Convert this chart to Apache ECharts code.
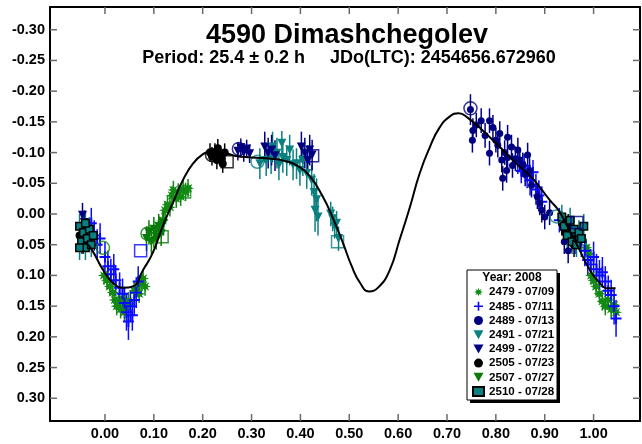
<!DOCTYPE html>
<html><head><meta charset="utf-8">
<script src="https://cdn.jsdelivr.net/npm/echarts@6/dist/echarts.min.js"></script>
<style>html,body{margin:0;padding:0;background:#fff}#c{width:642px;height:444px}</style>
</head><body><div id="c"></div>
<script>
const xTicks = [0.0, 0.1, 0.2, 0.3, 0.4, 0.5, 0.6, 0.7, 0.8, 0.9, 1.0];
const yTicks = [-0.30, -0.25, -0.20, -0.15, -0.10, -0.05, 0.00, 0.05, 0.10, 0.15, 0.20, 0.25, 0.30];

const fitCurve = [
  [-0.04,0.046],[-0.027,0.058],[-0.004,0.091],[0.016,0.112],[0.037,0.120],[0.057,0.118],[0.078,0.091],
  [0.098,0.063],[0.119,0.018],[0.140,-0.020],[0.160,-0.056],[0.180,-0.082],[0.200,-0.097],[0.220,-0.103],
  [0.240,-0.101],[0.265,-0.095],[0.300,-0.092],[0.340,-0.090],[0.370,-0.086],[0.395,-0.078],[0.419,-0.062],
  [0.446,-0.028],[0.466,0.006],[0.487,0.047],[0.505,0.085],[0.522,0.112],[0.540,0.126],[0.560,0.119],
  [0.583,0.091],[0.603,0.042],[0.624,-0.011],[0.644,-0.066],[0.665,-0.109],[0.685,-0.141],[0.706,-0.159],
  [0.724,-0.164],[0.742,-0.157],[0.773,-0.136],[0.808,-0.109],[0.842,-0.082],[0.875,-0.058],[0.910,-0.023],
  [0.930,-0.004],[0.950,0.026],[0.971,0.058],[0.990,0.088],[1.010,0.110],[1.030,0.121],[1.045,0.121]
];

// [phase, magnitude, error]
const s2479 = [
  [-0.002,0.100,0.015],[0.004,0.108,0.015],[0.010,0.118,0.015],[0.016,0.128,0.015],[0.020,0.140,0.015],
  [0.024,0.150,0.015],[0.028,0.145,0.015],[0.032,0.155,0.015],[0.036,0.138,0.015],[0.040,0.160,0.015],
  [0.044,0.150,0.015],[0.048,0.142,0.015],[0.060,0.125,0.015],[0.066,0.118,0.015],[0.070,0.130,0.015],
  [0.074,0.112,0.015],[0.078,0.105,0.015],[0.082,0.118,0.015],
  [0.100,0.040,0.015],[0.106,0.030,0.015],[0.112,0.020,0.015],[0.118,0.010,0.015],[0.123,-0.006,0.015],
  [0.128,-0.015,0.015],[0.133,-0.011,0.015],[0.137,-0.030,0.015],[0.140,-0.039,0.015],[0.146,-0.025,0.015],
  [0.150,-0.035,0.015],[0.155,-0.028,0.015],[0.160,-0.040,0.015],[0.165,-0.036,0.015],[0.170,-0.042,0.015],
  [0.985,0.055,0.015],[0.990,0.065,0.015],[0.995,0.100,0.015],[1.000,0.108,0.015],[1.005,0.118,0.015],
  [1.012,0.130,0.015],[1.018,0.142,0.015],[1.024,0.150,0.015],[1.030,0.140,0.015],[1.036,0.155,0.015],
  [1.042,0.148,0.015],[1.046,0.160,0.015]
];
const s2485 = [
  [-0.028,0.015,0.025],[-0.022,0.035,0.025],[-0.016,0.050,0.025],[-0.010,0.040,0.025],[0.000,0.070,0.025],
  [0.006,0.085,0.025],[0.012,0.098,0.025],[0.018,0.090,0.025],[0.022,0.108,0.025],[0.030,0.120,0.025],
  [0.036,0.130,0.025],[0.040,0.145,0.025],[0.044,0.160,0.030],[0.048,0.175,0.030],[0.052,0.150,0.025],
  [0.056,0.165,0.025],[0.060,0.140,0.025],[0.064,0.128,0.025],[0.068,0.110,0.025],
  [0.845,-0.085,0.020],[0.852,-0.070,0.020],[0.858,-0.078,0.020],[0.864,-0.062,0.020],[0.870,-0.055,0.025],
  [0.876,-0.068,0.020],[0.882,-0.040,0.025],[0.888,-0.030,0.025],[0.894,-0.020,0.025],
  [0.930,0.010,0.020],[0.945,0.025,0.020],[0.955,0.030,0.020],[0.962,0.045,0.020],
  [0.975,0.045,0.025],[0.982,0.060,0.025],[0.988,0.075,0.025],[0.994,0.082,0.025],[1.000,0.070,0.025],
  [1.006,0.090,0.025],[1.012,0.100,0.025],[1.018,0.095,0.025],[1.024,0.110,0.025],[1.030,0.125,0.025],
  [1.036,0.132,0.025],[1.042,0.150,0.030],[1.046,0.170,0.030]
];
const s2489 = [
  [0.748,-0.170,0.025],[0.753,-0.136,0.020],[0.752,-0.120,0.020],[0.760,-0.145,0.020],[0.770,-0.152,0.020],
  [0.778,-0.128,0.020],[0.787,-0.152,0.020],[0.794,-0.141,0.020],[0.787,-0.099,0.020],[0.800,-0.120,0.020],
  [0.804,-0.112,0.020],[0.808,-0.131,0.020],[0.812,-0.088,0.020],[0.814,-0.058,0.020],[0.818,-0.100,0.020],
  [0.822,-0.071,0.020],[0.824,-0.092,0.020],[0.824,-0.125,0.020],[0.832,-0.109,0.020],[0.834,-0.079,0.020],
  [0.840,-0.090,0.020],[0.845,-0.104,0.020],[0.849,-0.088,0.020],[0.855,-0.080,0.020],[0.860,-0.065,0.020],
  [0.865,-0.096,0.020],[0.869,-0.071,0.020],[0.873,-0.047,0.020],[0.885,-0.028,0.020],[0.890,-0.018,0.020],
  [0.894,-0.006,0.020],[0.900,0.005,0.020],[0.910,-0.002,0.020],[0.940,0.045,0.020],[0.948,0.060,0.020]
];
const s2491 = [
  [0.317,-0.082,0.025],[0.330,-0.087,0.025],[0.340,-0.090,0.025],[0.343,-0.109,0.025],[0.352,-0.099,0.025],
  [0.356,-0.080,0.025],[0.362,-0.115,0.020],[0.364,-0.092,0.025],[0.372,-0.087,0.025],[0.378,-0.104,0.025],
  [0.385,-0.080,0.025],[0.392,-0.082,0.025],[0.399,-0.071,0.025],[0.405,-0.087,0.025],[0.413,-0.066,0.025],
  [0.423,-0.055,0.025],[0.428,-0.035,0.030],[0.430,-0.006,0.035],[0.433,-0.023,0.035],[0.436,0.005,0.030],
  [0.462,0.000,0.020],[0.466,0.008,0.020],[0.470,0.020,0.020],[0.474,0.015,0.020],[0.478,0.040,0.020]
];
const s2499 = [
  [0.272,-0.102,0.015],[0.278,-0.108,0.015],[0.284,-0.100,0.015],[0.290,-0.106,0.015],[0.296,-0.098,0.015],
  [0.327,-0.109,0.025],[0.334,-0.099,0.025],[0.341,-0.104,0.025],[0.348,-0.095,0.025],[0.402,-0.109,0.025],
  [0.409,-0.099,0.025],[0.415,-0.087,0.025],[0.419,-0.104,0.025],[0.424,-0.096,0.025],
  [-0.046,0.002,0.020],[-0.042,0.014,0.020]
];
const s2505 = [
  [0.215,-0.100,0.015],[0.219,-0.094,0.015],[0.225,-0.100,0.015],[0.229,-0.088,0.015],[0.231,-0.107,0.015],
  [0.235,-0.096,0.015],[0.239,-0.090,0.015],[0.241,-0.082,0.015],[0.245,-0.100,0.015],
  [0.935,0.015,0.020],[0.942,0.030,0.020],[0.948,0.020,0.020],[0.955,0.040,0.020],[0.960,0.050,0.020],
  [-0.052,0.035,0.020],[-0.045,0.045,0.020]
];
const s2507 = [
  [0.085,0.040,0.020],[0.090,0.030,0.020],[0.095,0.045,0.020],[0.100,0.025,0.020],[0.105,0.038,0.020],
  [0.110,0.020,0.020],[0.115,0.032,0.020],[0.120,0.015,0.020]
];
const s2510 = [
  [-0.052,0.020,0.020],[-0.048,0.045,0.020],[-0.044,0.030,0.020],[-0.040,0.055,0.020],[-0.036,0.040,0.020],
  [-0.032,0.025,0.020],[-0.028,0.050,0.020],[-0.024,0.035,0.020],[-0.052,0.055,0.020],[-0.040,0.015,0.020],
  [0.935,0.005,0.020],[0.940,0.020,0.020],[0.946,0.035,0.020],[0.952,0.010,0.020],[0.956,0.045,0.020],
  [0.960,0.025,0.020],[0.965,0.050,0.020],[0.970,0.030,0.020],[0.975,0.040,0.020],[0.980,0.020,0.020]
];
// session start (open circle) and end (open square) markers: [phase, mag, session]
const startMarks = [
  [0.748,-0.172,'2489'],[0.219,-0.096,'2505'],[0.274,-0.106,'2499'],[0.312,-0.085,'2491'],
  [0.087,0.032,'2507'],[-0.004,0.055,'2479'],[0.924,0.004,'2510']
];
const endMarks = [
  [0.250,-0.085,'2505'],[0.425,-0.095,'2499'],[0.476,0.045,'2491'],[0.163,-0.036,'2479'],
  [0.117,0.037,'2507'],[0.073,0.060,'2485'],[0.966,0.014,'2489']
];

const X_MIN = -0.1125, X_MAX = 1.095, Y_MIN = -0.337, Y_MAX = 0.337;
const FONT = 'Liberation Sans, Arial, sans-serif';
const sessions = [
  {id:'2479', name:'2479 - 07/09', data:s2479, color:'#138a13', kind:'star', size:12},
  {id:'2485', name:'2485 - 07/11', data:s2485, color:'#0a0aff', kind:'plus', size:11},
  {id:'2489', name:'2489 - 07/13', data:s2489, color:'#000080', kind:'circle', size:7},
  {id:'2491', name:'2491 - 07/21', data:s2491, color:'#0a8080', kind:'tri', size:9},
  {id:'2499', name:'2499 - 07/22', data:s2499, color:'#000080', kind:'tri', size:9},
  {id:'2505', name:'2505 - 07/23', data:s2505, color:'#000000', kind:'circle', size:8},
  {id:'2507', name:'2507 - 07/27', data:s2507, color:'#0a7a0a', kind:'tri', size:9},
  {id:'2510', name:'2510 - 07/28', data:s2510, color:'#0a8080', kind:'square', size:7.5}
];
const colorOf = {}; sessions.forEach(s => colorOf[s.id] = s.color);

function starPath(n, ro, ri) {
  let s = 'path://';
  for (let i = 0; i < 2 * n; i++) {
    const r = i % 2 ? ri : ro, a = Math.PI * i / n - Math.PI / 2;
    s += (i ? 'L' : 'M') + (5 + r * Math.cos(a)).toFixed(2) + ',' + (5 + r * Math.sin(a)).toFixed(2);
  }
  return s + 'Z';
}
const SYM = {
  star: starPath(8, 5, 2.3),
  plus: 'path://M4.1,0H5.9V4.1H10V5.9H5.9V10H4.1V5.9H0V4.1H4.1Z',
  circle: 'circle',
  tri: 'path://M0,0L10,0L5,9Z',
  square: 'rect'
};

const series = [];
// axis tick marks on all four sides, placed through the axis scales
const TICK_LEN = 7, TICK_COLOR = '#6a6a6a', TICK_W = 1.5;
series.push({
  type: 'custom', name: 'xticks', silent: true, z: 5, clip: false,
  data: xTicks.map(v => [v, 0]),
  renderItem: (params, api) => {
    const cs = params.coordSys;
    const x = api.coord([api.value(0), 0])[0];
    const st = {stroke: TICK_COLOR, lineWidth: TICK_W};
    return {type: 'group', children: [
      {type: 'line', shape: {x1: x, y1: cs.y + cs.height, x2: x, y2: cs.y + cs.height - TICK_LEN}, style: st},
      {type: 'line', shape: {x1: x, y1: cs.y, x2: x, y2: cs.y + TICK_LEN}, style: st}
    ]};
  }
});
series.push({
  type: 'custom', name: 'yticks', silent: true, z: 5, clip: false,
  data: yTicks.map(v => [0, v]),
  renderItem: (params, api) => {
    const cs = params.coordSys;
    const y = api.coord([0, api.value(1)])[1];
    const st = {stroke: TICK_COLOR, lineWidth: TICK_W};
    return {type: 'group', children: [
      {type: 'line', shape: {x1: cs.x, y1: y, x2: cs.x + TICK_LEN, y2: y}, style: st},
      {type: 'line', shape: {x1: cs.x + cs.width, y1: y, x2: cs.x + cs.width - TICK_LEN, y2: y}, style: st}
    ]};
  }
});
sessions.forEach(s => {
  series.push({
    type: 'custom', name: s.id + '_err', silent: true, z: 1,
    data: s.data.map(d => [d[0], d[1] - d[2], d[1] + d[2]]),
    encode: {x: 0, y: [1, 2]},
    renderItem: (params, api) => {
      const p1 = api.coord([api.value(0), api.value(1)]);
      const p2 = api.coord([api.value(0), api.value(2)]);
      return {type: 'line', shape: {x1: p1[0], y1: p1[1], x2: p2[0], y2: p2[1]},
        style: {stroke: s.color, lineWidth: 1.5}};
    }
  });
});
sessions.forEach(s => {
  series.push({
    type: 'scatter', name: s.name, z: 2, silent: true,
    data: s.data.map(d => [d[0], d[1]]),
    symbol: SYM[s.kind], symbolSize: s.size,
    itemStyle: s.kind === 'square'
      ? {color: s.color, borderColor: '#000', borderWidth: 1.5, opacity: 1}
      : {color: s.color, opacity: 1}
  });
});
series.push({
  type: 'scatter', name: 'starts', z: 3, silent: true,
  data: startMarks.map(d => ({value: [d[0], d[1]], itemStyle: {borderColor: colorOf[d[2]]}})),
  symbol: 'circle', symbolSize: 13,
  itemStyle: {color: 'rgba(0,0,0,0)', borderWidth: 1.5}
});
series.push({
  type: 'scatter', name: 'ends', z: 3, silent: true,
  data: endMarks.map(d => ({value: [d[0], d[1]], itemStyle: {borderColor: colorOf[d[2]]}})),
  symbol: 'rect', symbolSize: 12,
  itemStyle: {color: 'rgba(0,0,0,0)', borderWidth: 1.5}
});
series.push({
  type: 'line', name: 'fit', z: 4, silent: true, data: fitCurve, smooth: 0.5,
  showSymbol: false, lineStyle: {color: '#000', width: 2}
});

const labelStyle = {fontFamily: FONT, fontWeight: 'bold', fontSize: 14.5, color: '#000'};
const fmt = v => (Math.abs(v) < 1e-9 ? 0 : v).toFixed(2);
const frameLine = {show: true, onZero: false, lineStyle: {color: '#000', width: 2}};

const chart = echarts.init(document.getElementById('c'), null, {renderer: 'canvas'});
chart.setOption({
  animation: false,
  backgroundColor: '#fff',
  grid: {left: 50, right: 2, top: 7, bottom: 23, show: false},
  xAxis: [
    {type: 'value', min: X_MIN, max: X_MAX, position: 'bottom',
     axisLine: frameLine, splitLine: {show: false}, axisTick: {show: false},
     axisLabel: Object.assign({customValues: xTicks, formatter: fmt, margin: 5}, labelStyle)},
    {type: 'value', min: X_MIN, max: X_MAX, position: 'top',
     axisLine: frameLine, splitLine: {show: false}, axisLabel: {show: false}, axisTick: {show: false}}
  ],
  yAxis: [
    {type: 'value', inverse: true, min: Y_MIN, max: Y_MAX, position: 'left',
     axisLine: frameLine, splitLine: {show: false}, axisTick: {show: false},
     axisLabel: Object.assign({customValues: yTicks, formatter: fmt, margin: 5}, labelStyle)},
    {type: 'value', inverse: true, min: Y_MIN, max: Y_MAX, position: 'right',
     axisLine: frameLine, splitLine: {show: false}, axisLabel: {show: false}, axisTick: {show: false}}
  ],
  legend: {
    orient: 'vertical', left: 472, top: 286, itemWidth: 11, itemHeight: 9, itemGap: 2,
    selectedMode: false, z: 20, padding: 0,
    textStyle: {fontFamily: FONT, fontWeight: 'bold', fontSize: 11.6, color: '#000', lineHeight: 12.2},
    data: sessions.map(s => s.name)
  },
  graphic: [
    {type: 'rect', z: 14, shape: {x: 470, y: 273, width: 90, height: 130}, style: {fill: '#000'}},
    {type: 'rect', z: 15, shape: {x: 467, y: 270, width: 90, height: 130}, style: {fill: '#fff', stroke: '#000', lineWidth: 1}},
    {type: 'text', z: 21, x: 512, y: 278, style: {text: 'Year: 2008', font: 'bold 12px ' + FONT, fill: '#000', align: 'center', verticalAlign: 'middle'}},
    {type: 'text', z: 21, x: 347, y: 36, style: {text: '4590 Dimashchegolev', font: 'bold 27px ' + FONT, fill: '#000', align: 'center', verticalAlign: 'middle'}},
    {type: 'text', z: 21, x: 349, y: 58, style: {text: 'Period: 25.4 \u00b1 0.2 h     JDo(LTC): 2454656.672960', font: 'bold 18px ' + FONT, fill: '#000', align: 'center', verticalAlign: 'middle'}}
  ],
  series: series
});
</script></body></html>
